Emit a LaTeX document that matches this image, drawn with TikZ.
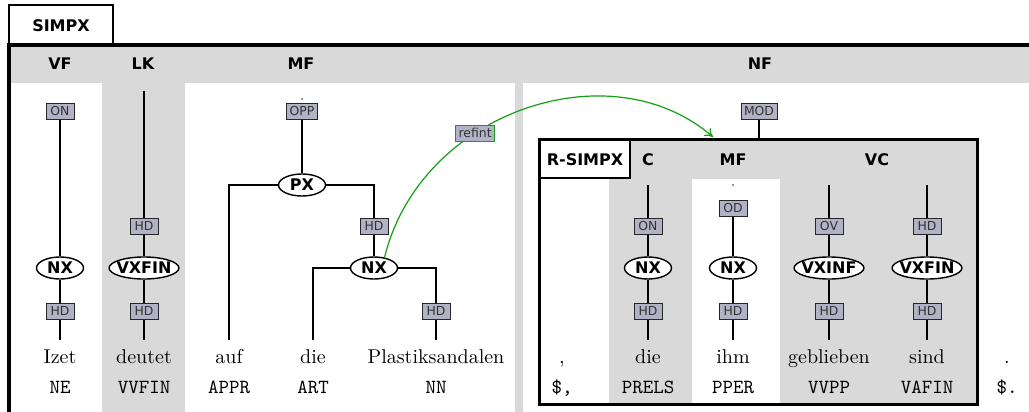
\documentclass[tikz,border=0pt]{standalone}
\usepackage{fontspec}
\newfontfamily\labfont{DejaVu Sans}
\usetikzlibrary{shapes.geometric,arrows.meta}
\definecolor{fieldgray}{RGB}{217,217,217}
\definecolor{rolefill}{RGB}{178,178,198}
\definecolor{refgreen}{RGB}{20,160,20}

\tikzset{
  catnode/.style={ellipse, draw, line width=0.7pt, fill=white,
    minimum width=23.5pt, minimum height=11pt, inner xsep=-1.4pt, inner ysep=0pt,
    font=\labfont\bfseries\fontsize{8}{8}\selectfont, text height=5.8pt, text depth=0pt},
  rolebox/.style={draw=black!85, fill=rolefill, line width=0.5pt,
    font=\labfont\fontsize{6.2}{6.2}\selectfont, text=black!80,
    minimum width=14pt, minimum height=8pt, inner xsep=1.5pt, inner ysep=0pt,
    text height=4.5pt, text depth=0pt},
  fieldlabel/.style={anchor=base, font=\labfont\bfseries\fontsize{8}{8}\selectfont},
  tabbox/.style={draw, line width=0.75pt, fill=white, inner sep=0pt},
  wordtxt/.style={anchor=base, font=\rmfamily\fontsize{10}{12}\selectfont,
    inner ysep=0pt, text height=11.5pt},
  postag/.style={anchor=base, font=\ttfamily\fontsize{10}{12}\selectfont},
  treeline/.style={line width=0.75pt},
  dotmark/.style={circle, fill=black!55, inner sep=0pt, minimum size=1.2pt}
}

\begin{document}
\begin{tikzpicture}[x=0.5pt,y=-0.5pt]
\useasboundingbox (0,0) rectangle (1029,412);
\clip (0,0) rectangle (1029,412);

% ---------- outer clause: SIMPX ----------
\fill[fieldgray] (10,44) rectangle (1040,420);
\fill[white] (11,83) rectangle (102,420);
\fill[white] (185,83) rectangle (515,420);
\fill[white] (523,83) rectangle (1040,420);
\node[tabbox, minimum width=52pt, minimum height=19.5pt] (simpxtab) at (61,24.5) {};
\node[fieldlabel] (simpx) at (61,31.5) {SIMPX};
\draw[line width=2pt] (8.5,420) -- (8.5,44.5) -- (1040,44.5);

\node[fieldlabel] (vf) at (60,69.5) {VF};
\node[fieldlabel] (lk) at (143,69.5) {LK};
\node[fieldlabel] (mf) at (301,69.5) {MF};
\node[fieldlabel] (nf) at (760,69.5) {NF};

% ---------- embedded relative clause: R-SIMPX ----------
\fill[fieldgray] (539,139) rectangle (977.5,404);
\fill[white] (541,178) rectangle (609,403);
\fill[white] (692,179) rectangle (780,403);
\draw[line width=1.5pt] (539,139) rectangle (977.5,404);
\node[tabbox, minimum width=45pt, minimum height=19pt] (rsimpxtab) at (585,159) {};
\node[fieldlabel] (rsimpx) at (585,165) {R-SIMPX};
\node[fieldlabel] (rc) at (648,165) {C};
\node[fieldlabel] (rmf) at (733,165) {MF};
\node[fieldlabel] (rvc) at (877,165) {VC};

% ---------- VF ----------
\node[rolebox] (vfon) at (60,111) {ON};
\node[catnode] (vfnx) at (60,268) {NX};
\node[rolebox] (vfhd) at (60,311) {HD};
\node[wordtxt] (w1) at (60,363) {Izet};
\node[postag] (t1) at (60,393) {NE};
\draw[treeline] (vfon) -- (vfnx) (vfnx) -- (vfhd) (vfhd) -- (w1.north);

% ---------- LK ----------
\coordinate (lktop) at (144,91);
\node[rolebox] (lkhd1) at (144,226) {HD};
\node[catnode] (lkvx) at (144,268) {VXFIN};
\node[rolebox] (lkhd2) at (144,311) {HD};
\node[wordtxt] (w2) at (144,363) {deutet};
\node[postag] (t2) at (144,393) {VVFIN};
\draw[treeline] (lktop) -- (lkhd1) (lkhd1) -- (lkvx) (lkvx) -- (lkhd2) (lkhd2) -- (w2.north);

% ---------- MF ----------
\node[dotmark] (oppdot) at (302,99) {};
\node[rolebox] (opp) at (302,111) {OPP};
\node[catnode] (px) at (302,185) {PX};
\node[rolebox] (pxhd) at (374,226) {HD};
\node[catnode] (mfnx) at (374,268) {NX};
\node[rolebox] (nnhd) at (436,311) {HD};
\node[wordtxt] (w3) at (229,363) {auf};
\node[postag] (t3) at (229,393) {APPR};
\node[wordtxt] (w4) at (313,363) {die};
\node[postag] (t4) at (313,393) {ART};
\node[wordtxt] (w5) at (436,363) {Plastiksandalen};
\node[postag] (t5) at (436,393) {NN};
\draw[treeline] (opp) -- (px);
\draw[treeline] (px.west) -| (w3.north);
\draw[treeline] (px.east) -| (pxhd.north);
\draw[treeline] (pxhd) -- (mfnx);
\draw[treeline] (mfnx.west) -| (w4.north);
\draw[treeline] (mfnx.east) -| (nnhd.north);
\draw[treeline] (nnhd) -- (w5.north);

% ---------- NF ----------
\node[rolebox] (mod) at (759,111) {MOD};
\coordinate (modfoot) at (759,139);
\draw[treeline] (mod) -- (modfoot);

% comma
\node[wordtxt] (w6) at (562,363) {,};
\node[postag] (t6) at (562,393) {\$,};

% C
\coordinate (ctop) at (648,185);
\node[rolebox] (con) at (648,226) {ON};
\node[catnode] (cnx) at (648,268) {NX};
\node[rolebox] (chd) at (648,311) {HD};
\node[wordtxt] (w7) at (648,363) {die};
\node[postag] (t7) at (648,393) {PRELS};
\draw[treeline] (ctop) -- (con) (con) -- (cnx) (cnx) -- (chd) (chd) -- (w7.north);

% MF of the relative clause
\node[dotmark] (oddot) at (733,185) {};
\node[rolebox] (od) at (733,208) {OD};
\node[catnode] (rnx) at (733,268) {NX};
\node[rolebox] (rhd) at (733,311) {HD};
\node[wordtxt] (w8) at (733,363) {ihm};
\node[postag] (t8) at (733,393) {PPER};
\draw[treeline] (od) -- (rnx) (rnx) -- (rhd) (rhd) -- (w8.north);

% VC
\coordinate (vtop1) at (829,185);
\node[rolebox] (ov) at (829,226) {OV};
\node[catnode] (vxinf) at (829,268) {VXINF};
\node[rolebox] (infhd) at (829,311) {HD};
\node[wordtxt] (w9) at (829,363) {geblieben};
\node[postag] (t9) at (829,393) {VVPP};
\draw[treeline] (vtop1) -- (ov) (ov) -- (vxinf) (vxinf) -- (infhd) (infhd) -- (w9.north);

\coordinate (vtop2) at (927,185);
\node[rolebox] (finhd1) at (927,226) {HD};
\node[catnode] (vxfin) at (927,268) {VXFIN};
\node[rolebox] (finhd2) at (927,311) {HD};
\node[wordtxt] (w10) at (927,363) {sind};
\node[postag] (t10) at (927,393) {VAFIN};
\draw[treeline] (vtop2) -- (finhd1) (finhd1) -- (vxfin) (vxfin) -- (finhd2) (finhd2) -- (w10.north);

% final punctuation
\node[wordtxt] (w11) at (1007,363) {.};
\node[postag] (t11) at (1007,393) {\$.};

% ---------- reference link ----------
\coordinate (rtop) at (713,137);
\draw[refgreen, line width=0.6pt, -{To[length=4pt,width=5pt]}]
  (mfnx.45) .. controls (420,112) and (610,48) .. (rtop)
  node[rolebox, draw=refgreen, pos=0.37] (refint) {refint};
\end{tikzpicture}
\end{document}
